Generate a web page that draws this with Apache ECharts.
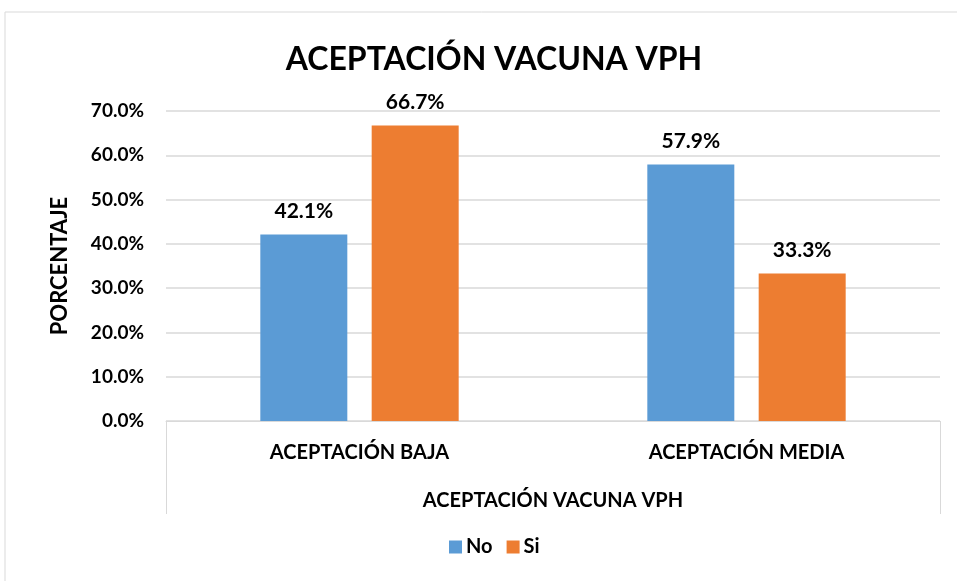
<!DOCTYPE html>
<html>
<head>
<meta charset="utf-8">
<script src="https://cdn.jsdelivr.net/npm/echarts@6/dist/echarts.min.js"></script>
<style>
  html, body { margin: 0; padding: 0; background: #fff; }
  #chart { width: 957px; height: 581px; }
</style>
</head>
<body>
<div id="chart"></div>
<script>
// datos
var categorias = ['ACEPTACIÓN BAJA', 'ACEPTACIÓN MEDIA'];
var grupo = ['ACEPTACIÓN VACUNA VPH'];
var serieNo = [42.1, 57.9];
var serieSi = [66.7, 33.3];

var fuente = 'Lato';
var myChart = echarts.init(document.getElementById('chart'));
myChart.setOption({
  backgroundColor: '#fff',
  textStyle: { fontFamily: fuente },
  title: {
    text: 'ACEPTACIÓN VACUNA VPH',
    left: 489,
    top: 39,
    textAlign: 'center',
    textStyle: { fontFamily: fuente, fontWeight: 'bold', fontSize: 32, color: '#000' }
  },
  legend: {
    data: ['No', 'Si'],
    bottom: 19,
    left: 444,
    itemWidth: 13,
    itemHeight: 13,
    itemGap: 14,
    icon: 'rect',
    textStyle: { fontFamily: fuente, fontWeight: 'bold', fontSize: 20, color: '#000', padding: [0, 0, 0, -1] }
  },
  graphic: [{
    type: 'rect',
    shape: { x: 5, y: 12, width: 1000, height: 1000 },
    style: { fill: 'none', stroke: '#d9d9d9', lineWidth: 1 },
    silent: true
  }],
  grid: { left: 166, right: 17, top: 111, bottom: 160 },
  xAxis: [{
    type: 'category',
    data: categorias,
    axisLine: { lineStyle: { color: '#d9d9d9', width: 1 } },
    axisTick: { show: false },
    axisLabel: { margin: 22, color: '#000', fontWeight: 'bold', fontSize: 20, fontFamily: fuente }
  }, {
    type: 'category',
    position: 'bottom',
    data: grupo,
    axisLine: { show: false },
    axisTick: { show: true, length: 93, lineStyle: { color: '#d9d9d9', width: 1 } },
    axisLabel: { margin: 70, color: '#000', fontWeight: 'bold', fontSize: 20, fontFamily: fuente }
  }],
  yAxis: {
    type: 'value',
    min: 0,
    max: 70,
    interval: 10,
    name: 'PORCENTAJE',
    nameLocation: 'middle',
    nameGap: 95,
    nameRotate: 90,
    nameTextStyle: { color: '#000', fontWeight: 'bold', fontSize: 22, fontFamily: fuente },
    axisLine: { show: false },
    axisTick: { show: false },
    axisLabel: {
      margin: 22,
      color: '#000',
      fontWeight: 'bold',
      fontSize: 19,
      fontFamily: fuente,
      formatter: function (v) { return v.toFixed(1) + '%'; }
    },
    splitLine: { lineStyle: { color: '#d9d9d9', width: 1.5 } }
  },
  series: [{
    name: 'No',
    type: 'bar',
    data: serieNo,
    barWidth: 87,
    barGap: '28%',
    itemStyle: { color: '#5b9bd5' },
    label: {
      show: true,
      position: 'top',
      distance: 13,
      color: '#000',
      fontWeight: 'bold',
      fontSize: 21,
      fontFamily: fuente,
      formatter: function (p) { return p.value.toFixed(1) + '%'; }
    }
  }, {
    name: 'Si',
    type: 'bar',
    data: serieSi,
    barWidth: 87,
    itemStyle: { color: '#ed7d31' },
    label: {
      show: true,
      position: 'top',
      distance: 13,
      color: '#000',
      fontWeight: 'bold',
      fontSize: 21,
      fontFamily: fuente,
      formatter: function (p) { return p.value.toFixed(1) + '%'; }
    }
  }]
});
</script>
</body>
</html>
